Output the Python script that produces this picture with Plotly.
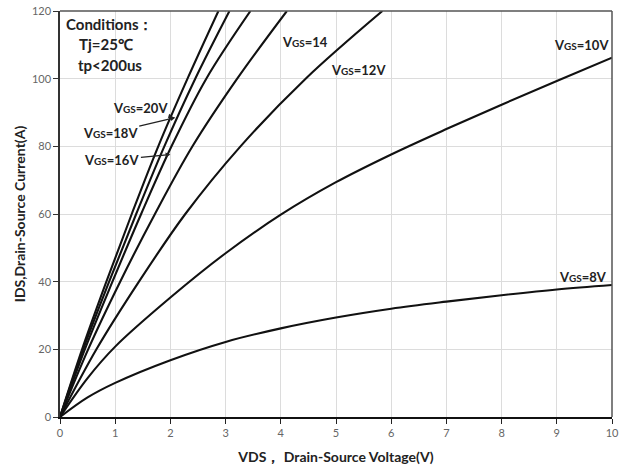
import plotly.graph_objects as go

# Output characteristics: drain current vs drain-source voltage for several gate voltages
vds_8v = [0, 0.5, 1, 2, 3, 4, 5, 6, 7, 8, 9, 10]
ids_8v = [0, 5.8, 10.1, 16.8, 22.2, 26.2, 29.4, 32.0, 34.1, 36.0, 37.7, 39.0]

vds_10v = [0, 0.5, 1, 2, 3, 4, 5, 6, 7, 8, 9, 10]
ids_10v = [0, 11.5, 20.8, 35.3, 48.4, 59.8, 69.4, 77.6, 85.1, 92.3, 99.3, 106.2]

ids_steep = [0, 20, 40, 60, 80, 100, 120]
vds_12v = [0, 0.66, 1.43, 2.27, 3.27, 4.45, 5.84]
vds_14v = [0, 0.51, 1.09, 1.72, 2.40, 3.21, 4.11]
vds_16v = [0, 0.45, 0.95, 1.47, 2.02, 2.65, 3.45]
vds_18v = [0, 0.42, 0.89, 1.38, 1.89, 2.45, 3.07]
vds_20v = [0, 0.40, 0.84, 1.30, 1.78, 2.31, 2.87]

x_ticks = [0, 1, 2, 3, 4, 5, 6, 7, 8, 9, 10]
y_ticks = [0, 20, 40, 60, 80, 100, 120]

FONT = "Lato"
TXT = "#222222"

series = [
    (vds_8v, ids_8v),
    (vds_10v, ids_10v),
    (vds_12v, ids_steep),
    (vds_14v, ids_steep),
    (vds_16v, ids_steep),
    (vds_18v, ids_steep),
    (vds_20v, ids_steep),
]

fig = go.Figure()
for xs, ys in series:
    fig.add_trace(go.Scatter(
        x=xs, y=ys, mode="lines",
        line=dict(color="#111111", width=2.1, shape="spline", smoothing=1.0),
        showlegend=False, hoverinfo="skip",
    ))


def vgs(v):
    return "<b>V<span style='font-size:10px'>GS</span>=" + v + "</b>"


annotations = [
    # test conditions block
    dict(x=0.008, y=0.995, xref="paper", yref="paper", xanchor="left", yanchor="top",
         text="<b>Conditions：</b>", showarrow=False, font=dict(size=15)),
    dict(x=0.083, y=0.945, xref="paper", yref="paper", xanchor="center", yanchor="top",
         text="<b>Tj=25℃</b>", showarrow=False, font=dict(size=15)),
    dict(x=0.091, y=0.895, xref="paper", yref="paper", xanchor="center", yanchor="top",
         text="<b>tp<200us</b>", showarrow=False, font=dict(size=15)),
    # curve labels
    dict(x=4.43, y=110.7, text=vgs("14"), showarrow=False,
         xanchor="center", yanchor="middle"),
    dict(x=5.41, y=102.5, text=vgs("12V"), showarrow=False,
         xanchor="center", yanchor="middle"),
    dict(x=9.44, y=109.9, text=vgs("10V"), showarrow=False,
         xanchor="center", yanchor="middle"),
    dict(x=9.48, y=41.4, text=vgs("8V"), showarrow=False,
         xanchor="center", yanchor="middle"),
    # arrowed labels for the steep curves
    dict(x=2.05, y=88.6, ax=1.45, ay=91.2, axref="x", ayref="y",
         text=vgs("20V"), showarrow=True, arrowhead=2,
         arrowsize=0.8, arrowwidth=1.2, arrowcolor="#222222", standoff=0),
    dict(x=2.09, y=88.5, ax=0.91, ay=83.9, axref="x", ayref="y",
         text=vgs("18V"), showarrow=True, arrowhead=2,
         arrowsize=0.8, arrowwidth=1.2, arrowcolor="#222222", standoff=0),
    dict(x=2.0, y=77.6, ax=0.94, ay=75.9, axref="x", ayref="y",
         text=vgs("16V"), showarrow=True, arrowhead=2,
         arrowsize=0.8, arrowwidth=1.2, arrowcolor="#222222", standoff=0),
]

fig.update_layout(
    width=623, height=471,
    margin=dict(l=60, r=11, t=11, b=54, autoexpand=False),
    paper_bgcolor="white", plot_bgcolor="white",
    font=dict(family=FONT, size=13, color=TXT),
    annotations=annotations,
    xaxis=dict(
        range=[0, 10], tickvals=x_ticks, ticktext=[str(v) for v in x_ticks],
        showgrid=True, gridcolor="#dcdcdc", gridwidth=1,
        showline=True, linecolor="#111111", linewidth=2, mirror=False,
        ticks="outside", ticklen=5, tickcolor="#222222", tickwidth=1,
        tickfont=dict(family=FONT, size=11, color="#666666"),
        zeroline=False, automargin=False,
        title=dict(text="<b>VDS， Drain-Source Voltage(V)</b>", standoff=14,
                   font=dict(family=FONT, size=14, color=TXT)),
    ),
    yaxis=dict(
        range=[0, 120], tickvals=y_ticks, ticktext=[str(v) for v in y_ticks],
        showgrid=True, gridcolor="#dcdcdc", gridwidth=1,
        showline=True, linecolor="#333333", linewidth=1.5, mirror=False,
        ticks="outside", ticklen=5, tickcolor="#333333", tickwidth=1,
        tickfont=dict(family=FONT, size=11, color="#666666"),
        zeroline=False, automargin=False,
        title=dict(text="<b>IDS,Drain-Source Current(A)</b>", standoff=3,
                   font=dict(family=FONT, size=14, color=TXT)),
    ),
    shapes=[
        # top and right frame of the plotting area
        dict(type="line", xref="paper", yref="paper", x0=0, x1=1, y0=1, y1=1,
             line=dict(color="#555555", width=1.5)),
        dict(type="line", xref="paper", yref="paper", x0=1, x1=1, y0=0, y1=1,
             line=dict(color="#555555", width=1.5)),
    ],
)

fig.write_html("out.html")
